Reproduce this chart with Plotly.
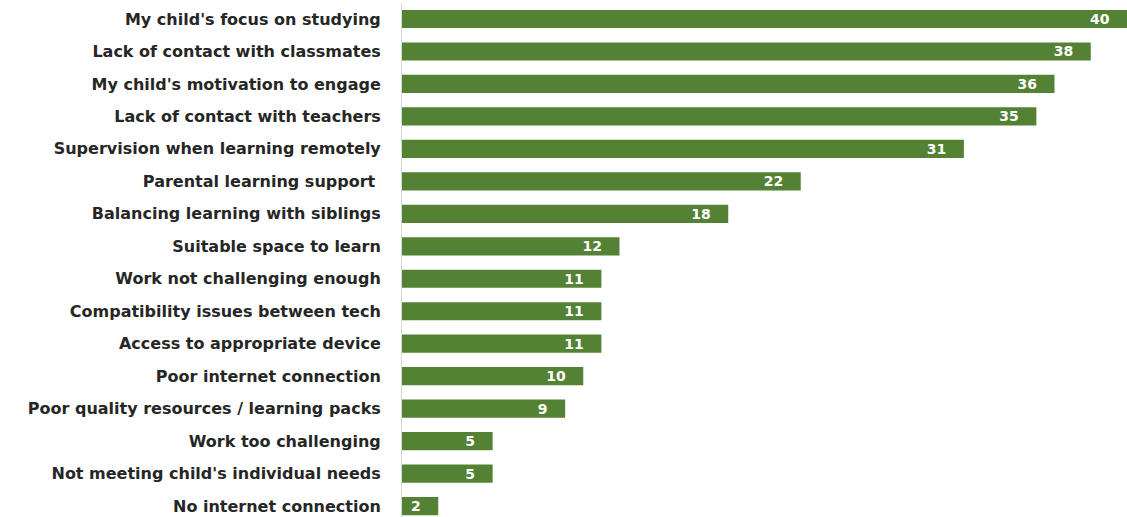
import plotly.graph_objects as go

categories = [
    "My child's focus on studying",
    "Lack of contact with classmates",
    "My child's motivation to engage",
    "Lack of contact with teachers",
    "Supervision when learning remotely",
    "Parental learning support ",
    "Balancing learning with siblings",
    "Suitable space to learn",
    "Work not challenging enough",
    "Compatibility issues between tech",
    "Access to appropriate device",
    "Poor internet connection",
    "Poor quality resources / learning packs",
    "Work too challenging",
    "Not meeting child's individual needs",
    "No internet connection",
]
values = [40, 38, 36, 35, 31, 22, 18, 12, 11, 11, 11, 10, 9, 5, 5, 2]

fig = go.Figure(go.Bar(
    x=values,
    y=categories,
    orientation="h",
    marker=dict(color="#548235", line=dict(width=0)),
    width=0.56,
    texttemplate="%{x}\u00a0\u00a0\u00a0",
    textposition="inside",
    insidetextanchor="end",
    constraintext="none",
    textfont=dict(family="DejaVu Sans", size=14, color="white", weight="bold"),
    cliponaxis=False,
))

fig.update_layout(
    width=1127, height=517,
    margin=dict(l=402, r=0, t=3, b=0),
    paper_bgcolor="white", plot_bgcolor="white",
    showlegend=False,
    xaxis=dict(range=[0, 40], visible=False, fixedrange=True),
    yaxis=dict(
        type="category",
        range=[15.337, -0.493],
        showline=True, linecolor="#d9d9d9", linewidth=1,
        showgrid=False, ticks="",
        ticklabelstandoff=17,
        tickfont=dict(family="DejaVu Sans", size=16, color="#262626", weight="bold"),
    ),
)

fig.write_html("out.html")
